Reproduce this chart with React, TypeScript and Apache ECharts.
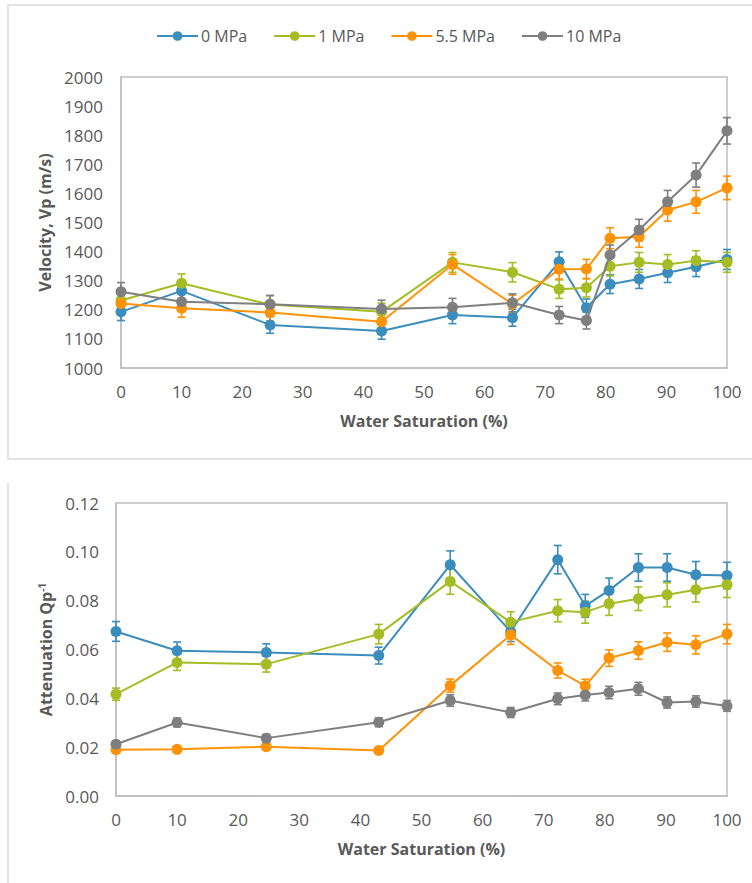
import React, { useEffect, useRef } from "react";
import * as echarts from "echarts";

// Water saturation (%) at which each sample was measured
const saturation = [0, 10, 24.6, 43, 54.7, 64.6, 72.3, 76.8, 80.7, 85.5, 90.2, 94.9, 100];

// Confining pressures
const pressures = ["0 MPa", "1 MPa", "5.5 MPa", "10 MPa"];
const colors = ["#3B8DBD", "#A5BC25", "#FF9308", "#7F7F7F"];

// P-wave velocity Vp (m/s)
const vp0 = [1193, 1265, 1148, 1127, 1182, 1173, 1365, 1207, 1288, 1306, 1327, 1348, 1373];
const vp1 = [1232, 1291, 1218, 1193, 1363, 1329, 1271, 1276, 1350, 1363, 1356, 1369, 1363];
const vp55 = [1222, 1205, 1191, 1159, 1356, 1220, 1339, 1340, 1446, 1451, 1543, 1571, 1619];
const vp10 = [1262, 1228, 1219, 1203, 1209, 1224, 1182, 1163, 1388, 1474, 1571, 1663, 1815];

// P-wave attenuation Qp^-1
const qp0 = [0.0674, 0.0595, 0.0588, 0.0575, 0.0947, 0.0673, 0.0968, 0.0779, 0.0842, 0.0936, 0.0936, 0.0906, 0.0903];
const qp1 = [0.0417, 0.0547, 0.054, 0.0663, 0.0879, 0.0712, 0.0759, 0.0753, 0.0787, 0.0808, 0.0824, 0.0845, 0.0865];
const qp55 = [0.0189, 0.0191, 0.0202, 0.0186, 0.0452, 0.066, 0.0514, 0.0451, 0.0565, 0.0596, 0.063, 0.0619, 0.0663];
const qp10 = [0.0212, 0.0301, 0.0237, 0.0302, 0.0391, 0.0342, 0.0398, 0.0414, 0.0424, 0.0439, 0.0383, 0.0387, 0.0369];

// Percentage error bars
const vpErrorPct = 0.025;
const qpErrorPct = 0.06;

// Axis ticks
const vpTicks = { min: 1000, max: 2000, interval: 100 };
const qpTicks = { min: 0, max: 0.12, interval: 0.02 };
const swTicks = { min: 0, max: 100, interval: 10 };

const velocitySets = [vp0, vp1, vp55, vp10];
const attenuationSets = [qp0, qp1, qp55, qp10];

const FONT = "Open Sans";
const TEXT = "#595959";
const BORDER = "#BFBFBF";

function errorBarRenderer(color: string) {
  return (params: any, api: any) => {
    const x = api.value(0);
    const lo = api.coord([x, api.value(1)]);
    const hi = api.coord([x, api.value(2)]);
    const cap = 4;
    const style = { stroke: color, lineWidth: 1.6 };
    return {
      type: "group",
      children: [
        { type: "line", shape: { x1: lo[0], y1: lo[1], x2: hi[0], y2: hi[1] }, style },
        { type: "line", shape: { x1: hi[0] - cap, y1: hi[1], x2: hi[0] + cap, y2: hi[1] }, style },
        { type: "line", shape: { x1: lo[0] - cap, y1: lo[1], x2: lo[0] + cap, y2: lo[1] }, style },
      ],
    };
  };
}

function buildSeries(sets: number[][], pct: number, axisIndex: number) {
  const lines: any[] = [];
  const bars: any[] = [];
  sets.forEach((vals, i) => {
    lines.push({
      name: pressures[i],
      type: "line",
      xAxisIndex: axisIndex,
      yAxisIndex: axisIndex,
      data: saturation.map((s, k) => [s, vals[k]]),
      symbol: "circle",
      symbolSize: 11,
      lineStyle: { color: colors[i], width: 2 },
      itemStyle: { color: colors[i] },
      z: 3 + i * 0.1,
    });
    bars.push({
      name: pressures[i],
      type: "custom",
      xAxisIndex: axisIndex,
      yAxisIndex: axisIndex,
      renderItem: errorBarRenderer(colors[i]),
      encode: { x: 0, y: [1, 2] },
      data: saturation.map((s, k) => [s, vals[k] * (1 - pct), vals[k] * (1 + pct)]),
      z: 2,
      silent: true,
    });
  });
  return [...lines, ...bars];
}

const titleStyle = { fontFamily: FONT, fontSize: 16, fontWeight: "bold", color: TEXT };

const xAxisBase = (gridIndex: number) => ({
  type: "value",
  gridIndex,
  ...swTicks,
  name: "Water Saturation (%)",
  nameLocation: "middle",
  nameGap: 45,
  nameTextStyle: titleStyle,
  axisLine: { show: true, lineStyle: { color: BORDER, width: 1.5 } },
  axisTick: { show: false },
  splitLine: { show: false },
  axisLabel: { fontFamily: FONT, fontSize: 17, color: TEXT, margin: 15 },
});

export default function App() {
  const ref = useRef<HTMLDivElement>(null);

  useEffect(() => {
    if (!ref.current) return;
    const chart = echarts.init(ref.current, null, { renderer: "svg" });
    chart.setOption({
      animation: false,
      backgroundColor: "#ffffff",
      textStyle: { fontFamily: FONT },
      legend: {
        data: pressures,
        left: 156,
        top: 28,
        padding: 0,
        itemWidth: 41,
        itemHeight: 12,
        itemGap: 26,
        textStyle: { fontFamily: FONT, fontSize: 16, color: TEXT, padding: [0, 0, 0, -2] },
      },
      graphic: [
        {
          type: "rect",
          shape: { x: 8, y: 5, width: 760, height: 454 },
          style: { fill: "none", stroke: "#D9D9D9", lineWidth: 1.5 },
          silent: true,
        },
        {
          type: "line",
          shape: { x1: 8, y1: 483, x2: 8, y2: 890 },
          style: { stroke: "#D9D9D9", lineWidth: 1.5 },
          silent: true,
        },
      ],
      grid: [
        { left: 121, top: 77, width: 606, height: 291, show: true, borderColor: BORDER, borderWidth: 1.5, backgroundColor: "transparent" },
        { left: 116, top: 503, width: 611, height: 293, show: true, borderColor: BORDER, borderWidth: 1.5, backgroundColor: "transparent" },
      ],
      xAxis: [xAxisBase(0), xAxisBase(1)],
      yAxis: [
        {
          type: "value",
          gridIndex: 0,
          ...vpTicks,
          name: "Velocity, Vp (m/s)",
          nameLocation: "middle",
          nameRotate: 90,
          nameGap: 66,
          nameTextStyle: titleStyle,
          axisLine: { show: true, lineStyle: { color: BORDER, width: 1.5 } },
          axisTick: { show: false },
          splitLine: { show: false },
          axisLabel: { fontFamily: FONT, fontSize: 17, color: TEXT, margin: 18, formatter: (v: number) => String(v) },
        },
        {
          type: "value",
          gridIndex: 1,
          ...qpTicks,
          name: "Attenuation Qp{sup|-1}",
          nameLocation: "middle",
          nameRotate: 90,
          nameGap: 61,
          nameTextStyle: {
            ...titleStyle,
            rich: {
              sup: { fontFamily: FONT, fontSize: 10, fontWeight: "bold", color: TEXT, verticalAlign: "top", padding: [0, 0, 8, 0] },
            },
          },
          axisLine: { show: true, lineStyle: { color: BORDER, width: 1.5 } },
          axisTick: { show: false },
          splitLine: { show: false },
          axisLabel: {
            fontFamily: FONT,
            fontSize: 17,
            color: TEXT,
            margin: 17,
            formatter: (v: number) => v.toFixed(2),
          },
        },
      ],
      series: [...buildSeries(velocitySets, vpErrorPct, 0), ...buildSeries(attenuationSets, qpErrorPct, 1)],
    });
    return () => chart.dispose();
  }, []);

  return <div ref={ref} style={{ position: "absolute", left: 0, top: 0, width: 752, height: 883 }} />;
}
